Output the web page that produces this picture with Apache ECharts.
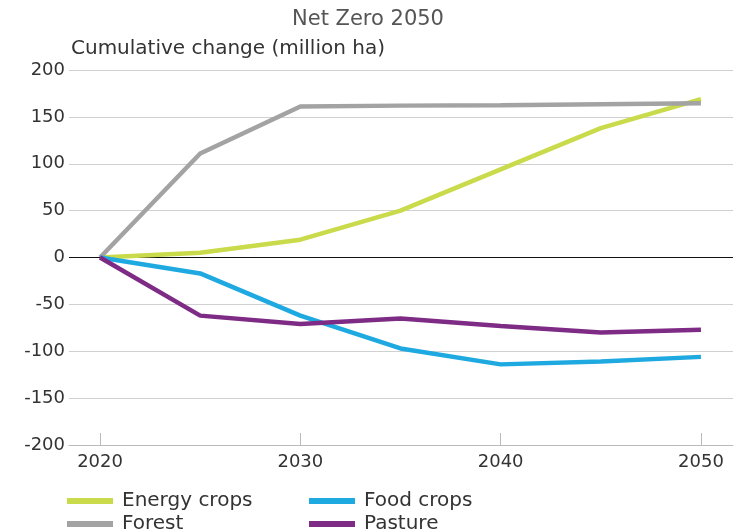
<!DOCTYPE html>
<html>
<head>
<meta charset="utf-8">
<script src="https://cdn.jsdelivr.net/npm/echarts@6/dist/echarts.min.js"></script>
<style>
  html, body { margin: 0; padding: 0; background: #fff; }
  #chart { width: 742px; height: 532px; }
</style>
</head>
<body>
<div id="chart"></div>
<script>
// Cumulative land-use change under the Net Zero 2050 pathway (million ha)
const years = [2020, 2025, 2030, 2035, 2040, 2045, 2050];
const energyCrops = [0, 5, 19, 50, 94, 138, 169];
const forest = [0, 111, 161, 162, 162.5, 163.5, 164.5];
const foodCrops = [0, -17, -62, -97, -114, -111, -106];
const pasture = [0, -62, -71, -65, -73, -80, -77];
const xTicks = [2020, 2030, 2040, 2050];

const FONT = 'DejaVu Sans';

const seriesDefs = [
  { name: 'Energy crops', data: energyCrops, color: '#c9da4a' },
  { name: 'Forest', data: forest, color: '#a3a3a3' },
  { name: 'Food crops', data: foodCrops, color: '#1fa9e1' },
  { name: 'Pasture', data: pasture, color: '#7e2b86' }
];

// one grey colour per split line, the zero line drawn black
const splitColors = [];
for (let v = -200; v <= 200; v += 50) splitColors.push(v === 0 ? '#111' : '#d0d0d0');

const legendPos = {
  'Energy crops': { left: 67, top: 491 },
  'Food crops': { left: 309, top: 491 },
  'Forest': { left: 67, top: 514 },
  'Pasture': { left: 309, top: 514 }
};

const chart = echarts.init(document.getElementById('chart'));
chart.setOption({
  animation: false,
  title: {
    text: 'Net Zero 2050',
    left: 287,
    top: 4,
    textStyle: { fontFamily: FONT, fontWeight: 'normal', fontSize: 21, color: '#555' }
  },
  legend: Object.keys(legendPos).map(name => ({
    data: [name],
    left: legendPos[name].left,
    top: legendPos[name].top,
    icon: 'rect',
    itemWidth: 46,
    itemHeight: 6,
    itemGap: 10,
    textStyle: { fontFamily: FONT, fontSize: 20, color: '#333', padding: [0, 0, 0, 4] },
    padding: 0
  })),
  grid: { left: 69, right: 9, top: 70, bottom: 87, containLabel: false },
  xAxis: {
    type: 'value',
    min: 2018.45,
    max: 2051.6,
    axisLine: { show: true, onZero: false, lineStyle: { color: '#bbb', width: 1 } },
    axisTick: { show: true, inside: true, length: 12, customValues: xTicks, lineStyle: { color: '#bbb' } },
    axisLabel: {
      customValues: xTicks,
      formatter: v => String(v),
      fontFamily: FONT, fontSize: 18, color: '#333', margin: 8
    },
    splitLine: { show: false }
  },
  yAxis: {
    type: 'value',
    min: -200,
    max: 200,
    interval: 50,
    name: 'Cumulative change (million ha)',
    nameLocation: 'end',
    nameGap: 11,
    nameTextStyle: { fontFamily: FONT, fontSize: 20, color: '#333', align: 'left', padding: [0, 0, 0, 2] },
    axisLine: { show: false },
    axisTick: { show: false },
    axisLabel: { fontFamily: FONT, fontSize: 18, color: '#333', margin: 4 },
    splitLine: { show: true, lineStyle: { color: splitColors, width: 1 } }
  },
  series: seriesDefs.map(s => ({
    name: s.name,
    type: 'line',
    data: years.map((y, i) => [y, s.data[i]]),
    showSymbol: false,
    symbol: 'none',
    lineStyle: { color: s.color, width: 4.5 },
    itemStyle: { color: s.color }
  }))
});
</script>
</body>
</html>
